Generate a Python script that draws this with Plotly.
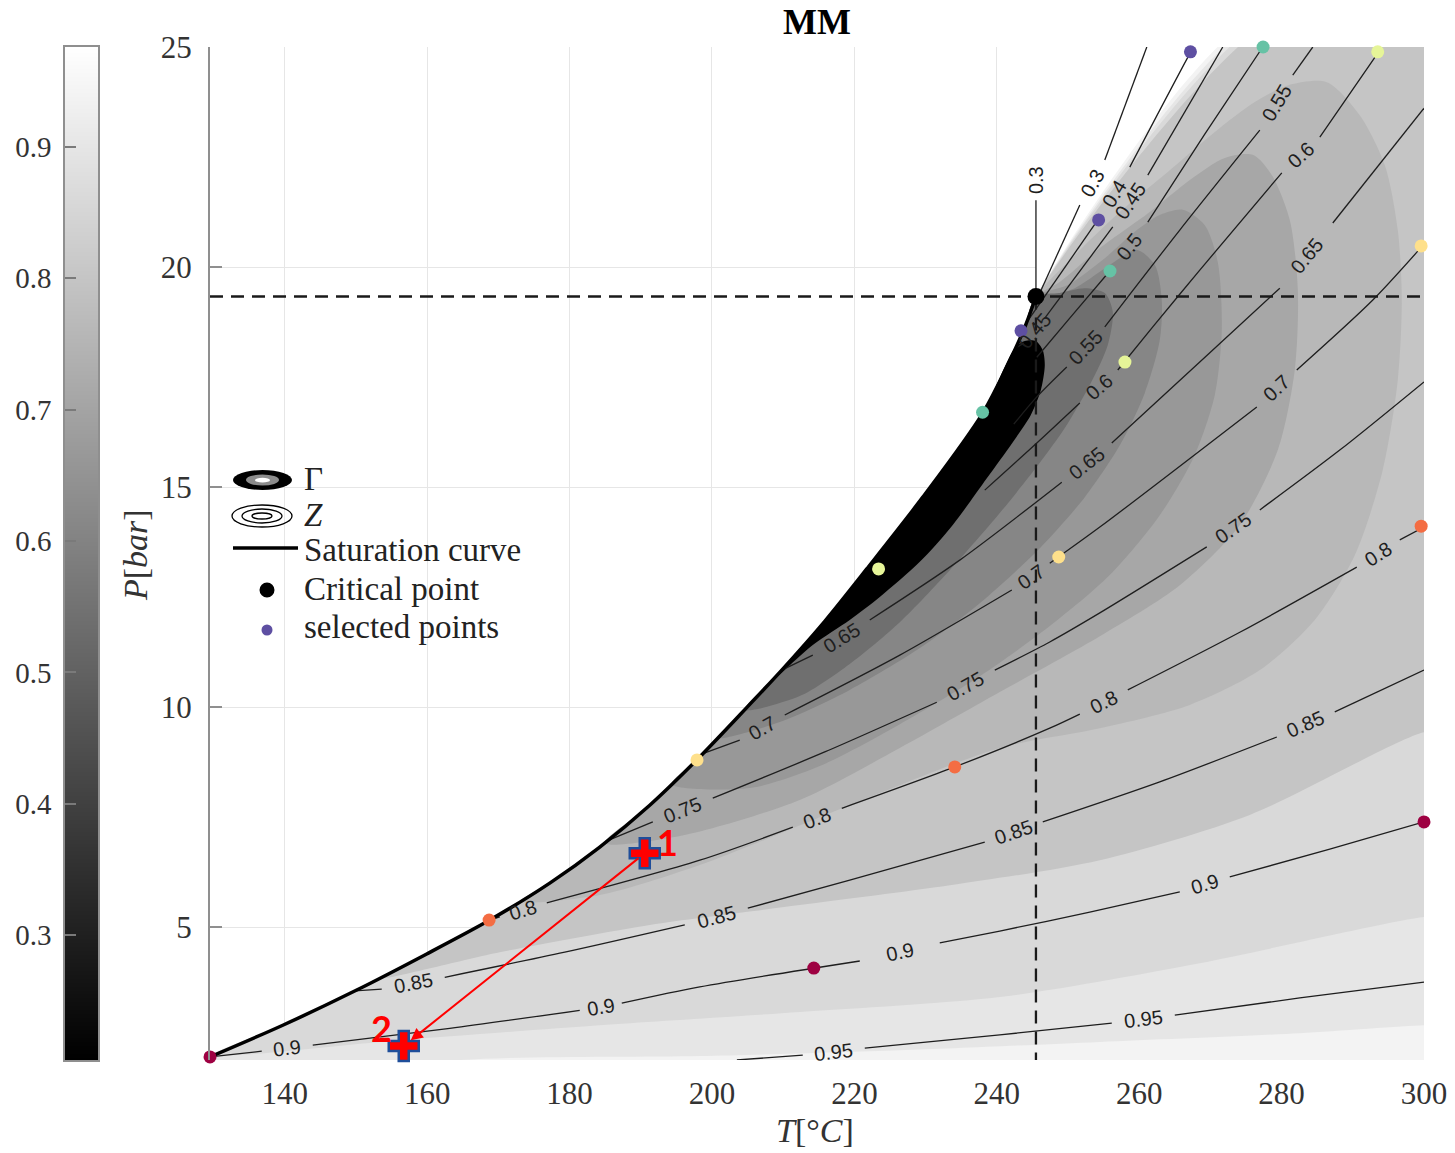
import math
import numpy as np
import plotly.graph_objects as go

# ---------------- axis ranges / ticks ----------------
T_MIN, T_MAX = 129.5, 300.0
P_MIN, P_MAX = 1.98, 25.0
T_TICKS = [140, 160, 180, 200, 220, 240, 260, 280, 300]
P_TICKS = [5, 10, 15, 20, 25]
CB_MIN, CB_MAX = 0.205, 0.976
CB_TICKS = [0.3, 0.4, 0.5, 0.6, 0.7, 0.8, 0.9]

# ---------------- critical point & saturation curve ----------------
crit_T, crit_P = 245.5, 19.33
sat_T = [129.5, 139.72, 150.11, 159.94, 168.79, 177.22, 184.24, 191.26, 197.87, 203.90,
         209.80, 215.84, 221.74, 229.61, 238.03, 243.65, 245.5]
sat_P = [2.05, 2.77, 3.57, 4.39, 5.16, 6.00, 6.82, 7.77, 8.80, 9.82,
         10.84, 11.95, 13.14, 14.77, 16.68, 18.52, 19.33]

# ---------------- Gamma bands (boundaries) ----------------
white_top_T = [273.1, 274.0, 274.8, 276.0]   # supercritical white edge at P=25
band_gamma = [0.94, 0.90, 0.86, 0.80, 0.76, 0.71, 0.665, 0.61, 0.54, 0.20]

gA_T = [164.72, 198.29, 226.38, 254.47, 282.56, 300.0]
gA_P = [1.98, 2.07, 2.20, 2.39, 2.59, 2.77]
gB_T = [130.17, 156.15, 184.24, 212.33, 240.42, 268.51, 300.0]
gB_P = [2.11, 2.43, 2.77, 3.07, 3.41, 4.18, 5.23]
gC_T = [153.34, 170.20, 191.26, 212.33, 233.40, 254.47, 275.53, 300.0]
gC_P = [3.84, 4.43, 5.05, 5.50, 5.95, 6.52, 7.55, 9.43]
g4_T = [173.01, 184.24, 198.29, 219.35, 240.42, 254.47, 267.11, 276.94, 284.66, 290.28,
        294.21, 296.32, 296.88, 296.32, 294.49, 290.98, 286.35, 281.15, 276.24, 270.62,
        264.30, 257.28, 250.96, 245.5]
g4_P = [5.58, 5.73, 6.41, 7.77, 9.07, 9.52, 10.05, 10.84, 11.98, 13.45,
        15.39, 17.43, 19.25, 20.84, 22.32, 23.45, 24.20, 24.14, 23.75, 23.07,
        22.20, 21.25, 20.27, 19.33]
g5_T = [184.94, 195.48, 212.33, 226.38, 240.42, 254.47, 265.70, 274.13, 279.47, 281.85,
        282.28, 281.15, 278.62, 275.96, 272.02, 267.11, 261.49, 254.47, 248.85, 245.5]
g5_P = [6.91, 7.07, 7.89, 9.07, 10.34, 11.61, 12.77, 14.14, 15.84, 17.66,
        19.48, 21.07, 22.09, 22.55, 22.48, 21.98, 21.25, 20.43, 19.66, 19.33]
g6_T = [194.35, 205.31, 215.14, 226.38, 237.61, 247.44, 255.87, 262.89, 267.81, 270.62,
        271.60, 271.04, 269.21, 266.12, 262.89, 259.38, 255.17, 249.97, 245.5]
g6_P = [8.25, 8.16, 8.66, 9.61, 10.70, 11.84, 13.0, 14.36, 15.73, 17.09,
        18.57, 20.11, 20.95, 21.30, 21.18, 20.80, 20.20, 19.59, 19.33]
g7_T = [200.81, 209.52, 219.35, 229.19, 237.61, 246.04, 252.36, 257.28, 260.79, 262.89,
        263.17, 262.19, 259.66, 257.28, 254.47, 250.96, 247.44, 245.5]
g7_P = [9.30, 9.66, 10.39, 11.34, 12.36, 13.61, 14.77, 15.95, 17.14, 18.34,
        19.25, 20.05, 20.39, 20.20, 19.89, 19.52, 19.36, 19.33]
g8_T = [204.61, 212.33, 219.35, 226.38, 233.40, 240.42, 246.04, 249.55, 253.06, 255.59,
        256.29, 255.17, 252.36, 248.85, 245.5]
g8_P = [9.94, 10.25, 10.98, 11.93, 13.11, 14.41, 15.55, 16.34, 17.32, 18.23,
        18.98, 19.41, 19.52, 19.41, 19.33]
g9_T = [207.42, 214.16, 219.35, 223.57, 229.19, 233.82, 238.60, 242.25, 244.78, 246.18,
        246.74, 246.46, 245.48, 243.93, 242.53]
g9_P = [10.43, 11.41, 11.98, 12.50, 13.30, 14.14, 15.20, 16.02, 16.64, 17.20,
        17.77, 18.11, 18.32, 18.32, 18.16]

# ---------------- Z contour lines (None = label gap) ----------------
z095_T = [203.5, 212.75, None, 221.46, 240.42, 256.15, None, 265.0, 282.56, 300.0]
z095_P = [1.98, 2.09, None, 2.25, 2.55, 2.82, None, 3.0, 3.39, 3.75]
z090_T = [129.5, 136.77, None, 143.93, 163.17, 181.43, None, 187.33, 198.29, 220.76, None,
          231.99, 240.42, 253.06, 265.70, None, 272.72, 286.77, 300.0]
z090_P = [2.05, 2.18, None, 2.32, 2.70, 3.11, None, 3.27, 3.64, 4.23, None,
          4.64, 4.91, 5.34, 5.80, None, 6.14, 6.77, 7.39]
z085_T = [149.83, 153.62, None, 162.47, 179.33, 196.18, None, 205.03, 219.35, 238.31, None,
          246.46, 262.89, 279.33, None, 287.47, 300.0]
z085_P = [3.55, 3.59, None, 3.86, 4.43, 5.05, None, 5.43, 6.07, 6.93, None,
          7.39, 8.30, 9.32, None, 9.89, 10.84]
z080_T = [168.79, 170.20, None, 176.80, 198.29, 211.35, None, 218.23, 234.10, 247.44, 251.66, None,
          258.40, 274.13, 290.56, None, 296.60, 300.0]
z080_P = [5.16, 5.23, None, 5.55, 6.52, 7.27, None, 7.70, 8.64, 9.52, 9.84, None,
          10.39, 11.70, 13.18, None, 13.80, 14.09]
z075_T = [185.08, 191.69, None, 200.11, 215.84, 231.57, None, 239.72, 247.44, 254.47, 269.49, None,
          276.94, 288.17, 300.0]
z075_P = [6.95, 7.39, None, 7.93, 8.98, 10.11, None, 10.84, 11.48, 12.14, 13.64, None,
          14.48, 15.84, 17.39]
z070_T = [198.71, 203.90, None, 210.22, 226.38, 242.11, None, 247.44, 254.47, 276.52, None,
          282.13, 292.81, 300.0]
z070_P = [8.94, 9.25, None, 9.82, 11.18, 12.66, None, 13.27, 14.09, 16.82, None,
          17.66, 19.25, 20.52]
z065_T = [209.80, 214.16, None, 222.16, 234.80, 249.13, None, 256.15, 269.92, 279.75, None,
          287.19, 300.0]
z065_P = [10.84, 11.18, None, 11.98, 13.34, 15.11, None, 16.0, 18.05, 19.52, None,
          21.0, 23.61]
z060_T = [238.31, 245.62, 251.66, None, 256.99, 261.91, 268.51, 280.03, None, 285.37, 293.51, 294.07]
z060_P = [14.93, 16.0, 16.91, None, 17.66, 18.64, 19.93, 22.14, None, 22.95, 24.86, 25.0]
z055_T = [242.39, 245.62, 249.83, None, 255.17, 265.70, 276.94, None, 281.57, 284.38]
z055_P = [16.43, 17.05, 17.73, None, 18.64, 20.84, 23.11, None, 24.36, 25.0]
z050_T = [245.62, 250.25, 255.87, None, 261.21, 269.21, 277.36]
z050_P = [17.95, 18.84, 19.91, None, 21.02, 23.02, 25.0]
z045_T = [242.67, 243.79, None, 246.74, 256.29, None, 261.21, 271.74]
z045_P = [18.16, 18.27, None, 18.84, 20.91, None, 22.09, 25.0]
z040_T = [243.37, 254.19, None, 258.68, 267.25, 267.67]
z040_P = [18.55, 21.07, None, 22.27, 24.89, 25.0]
z030_T = [246.04, 251.66, None, 255.17, 261.07]
z030_P = [19.41, 21.41, None, 22.43, 25.0]
z030v_T = [245.5, 245.5]
z030v_P = [19.33, 21.52]

# ---------------- selected points ----------------
sel_purple_T = [243.4, 254.3, 267.2];  sel_purple_P = [18.55, 21.07, 24.89]
sel_teal_T = [238.0, 255.9, 277.4];    sel_teal_P = [16.70, 19.91, 25.0]
sel_yg_T = [223.4, 258.0, 293.5];      sel_yg_P = [13.14, 17.84, 24.89]
sel_lo_T = [197.9, 248.7, 299.6];      sel_lo_P = [8.80, 13.41, 20.48]
sel_or_T = [168.7, 234.1, 299.6];      sel_or_P = [5.16, 8.64, 14.11]
sel_cr_T = [129.5, 214.3, 300.0];      sel_cr_P = [2.05, 4.07, 7.39]

# red annotation points
mark_T = [190.56, 156.71]
mark_P = [6.68, 2.30]
mark_labels = ["1", "2"]

# ---------------- page geometry ----------------
W, H = 1455, 1153
PLOT_L, PLOT_R, PLOT_T, PLOT_B = 210, 1424, 47, 1060
PAPER_W = PLOT_R
PLOT_H = PLOT_B - PLOT_T
PX_T = (PLOT_R - PLOT_L) / (T_MAX - T_MIN)
PX_P = PLOT_H / (P_MAX - P_MIN)
# corner points pushed slightly outside the axes so smoothed fills reach the frame
EXT_T = 0.02 * (T_MAX - T_MIN)
EXT_P = 0.03 * (P_MAX - P_MIN)
TX, PX_ = T_MAX + EXT_T, P_MAX + EXT_P
TN, PN = T_MIN - EXT_T, P_MIN - EXT_P


def pxx(x):
    return x / PAPER_W


def pxy(y):
    return (PLOT_B - y) / PLOT_H


def gray(g):
    v = int(round(255 * min(max((g - CB_MIN) / (CB_MAX - CB_MIN), 0.0), 1.0)))
    return f"rgb({v},{v},{v})"


def white_edge(wt):
    # extend the line crit -> (wt, P_MAX) slightly above the frame
    return crit_T + (wt - crit_T) * (PX_ - crit_P) / (P_MAX - crit_P)


def band_path(aT, aP, cT=(), cP=()):
    xs = list(aT) + list(cT)
    ys = list(aP) + list(cP)
    t_lo, t_hi = aT[0], xs[-1]
    for t, p in zip(sat_T[::-1], sat_P[::-1]):
        if t_lo < t < t_hi:
            xs.append(t)
            ys.append(p)
    xs.append(aT[0])
    ys.append(aP[0])
    return xs, ys


def angle(t1, p1, t2, p2):
    return -math.degrees(math.atan2((p2 - p1) * PX_P, (t2 - t1) * PX_T))


fig = go.Figure()


def add_poly(xs, ys, color, smooth=True):
    fig.add_trace(go.Scatter(x=xs, y=ys, mode="lines", fill="toself", fillcolor=color,
                             line=dict(width=0, color=color,
                                       shape="spline" if smooth else "linear", smoothing=0.8),
                             hoverinfo="skip", showlegend=False))


# supercritical white area
add_poly([crit_T, crit_T, TX, TX], [crit_P, PX_, PX_, crit_P], "white", smooth=False)
# band 0 (whole vapour region)
add_poly(sat_T + [white_edge(white_top_T[0]), TX, TX, TN],
         sat_P + [PX_, PX_, PN, PN], gray(band_gamma[0]))
# band 1
add_poly(sat_T + [white_edge(white_top_T[1]), TX] + [TX] + gA_T[::-1] + [TN],
         sat_P + [PX_, PX_] + [gA_P[-1]] + gA_P[::-1] + [PN], gray(band_gamma[1]))
# band 2, 3
for (aT, aP, wt, g) in [(gB_T, gB_P, white_top_T[2], band_gamma[2]),
                        (gC_T, gC_P, white_top_T[3], band_gamma[3])]:
    xs, ys = band_path(aT, aP, [TX, TX, white_edge(wt), crit_T], [aP[-1], PX_, PX_, crit_P])
    add_poly(xs, ys, gray(g))
# inner bands
for (aT, aP, g) in [(g4_T, g4_P, band_gamma[4]), (g5_T, g5_P, band_gamma[5]),
                    (g6_T, g6_P, band_gamma[6]), (g7_T, g7_P, band_gamma[7]),
                    (g8_T, g8_P, band_gamma[8]), (g9_T, g9_P, band_gamma[9])]:
    xs, ys = band_path(aT, aP)
    add_poly(xs, ys, gray(g))

# ---------------- Z contour lines + labels ----------------
contours = [("0.95", z095_T, z095_P), ("0.9", z090_T, z090_P), ("0.85", z085_T, z085_P),
            ("0.8", z080_T, z080_P), ("0.75", z075_T, z075_P), ("0.7", z070_T, z070_P),
            ("0.65", z065_T, z065_P), ("0.6", z060_T, z060_P), ("0.55", z055_T, z055_P),
            ("0.5", z050_T, z050_P), ("0.45", z045_T, z045_P), ("0.4", z040_T, z040_P),
            ("0.3", z030_T, z030_P), ("0.3", z030v_T, z030v_P)]
annotations = []
LABEL_FONT = dict(family="Liberation Sans, Arial, sans-serif", size=20, color="#1e1e1e")
for text, T, P in contours:
    fig.add_trace(go.Scatter(x=T, y=P, mode="lines",
                             line=dict(color="#1e1e1e", width=1.3, shape="spline", smoothing=0.8),
                             connectgaps=False, hoverinfo="skip", showlegend=False))
    for i, t in enumerate(T):
        if t is None:
            t1, p1, t2, p2 = T[i - 1], P[i - 1], T[i + 1], P[i + 1]
            annotations.append(dict(x=(t1 + t2) / 2, y=(p1 + p2) / 2, xref="x", yref="y",
                                    text=text, showarrow=False, textangle=angle(t1, p1, t2, p2),
                                    font=LABEL_FONT))
# trailing label of vertical 0.3 line
t1, p1, t2, p2 = z030v_T[-2], z030v_P[-2], z030v_T[-1], z030v_P[-1]
d = math.hypot((t2 - t1) * PX_T, (p2 - p1) * PX_P)
off = 20
annotations.append(dict(x=t2 + (t2 - t1) * PX_T / d * off / PX_T,
                        y=p2 + (p2 - p1) * PX_P / d * off / PX_P,
                        xref="x", yref="y", text="0.3", showarrow=False,
                        textangle=angle(t1, p1, t2, p2), font=LABEL_FONT))

# saturation curve
fig.add_trace(go.Scatter(x=sat_T, y=sat_P, mode="lines",
                         line=dict(color="black", width=3.5, shape="spline", smoothing=0.8),
                         hoverinfo="skip", showlegend=False))
# dashed critical lines
fig.add_trace(go.Scatter(x=[T_MIN, T_MAX], y=[crit_P, crit_P], mode="lines",
                         line=dict(color="#1a1a1a", width=2.3, dash="13px,8px"),
                         hoverinfo="skip", showlegend=False))
fig.add_trace(go.Scatter(x=[crit_T, crit_T], y=[crit_P, P_MIN], mode="lines",
                         line=dict(color="#1a1a1a", width=2.3, dash="13px,8px"),
                         hoverinfo="skip", showlegend=False))

# selected points
for (T, P, c) in [(sel_cr_T, sel_cr_P, "#9e0142"), (sel_or_T, sel_or_P, "#f46d43"),
                  (sel_lo_T, sel_lo_P, "#fee08b"), (sel_yg_T, sel_yg_P, "#e6f598"),
                  (sel_teal_T, sel_teal_P, "#66c2a5"), (sel_purple_T, sel_purple_P, "#5e4fa2")]:
    fig.add_trace(go.Scatter(x=T, y=P, mode="markers", marker=dict(size=13, color=c),
                             cliponaxis=False, hoverinfo="skip", showlegend=False))
# critical point
fig.add_trace(go.Scatter(x=[crit_T], y=[crit_P], mode="markers",
                         marker=dict(size=17, color="black"), cliponaxis=False,
                         hoverinfo="skip", showlegend=False))

# red arrow between the two marked states
annotations.append(dict(x=mark_T[1], y=mark_P[1], ax=mark_T[0], ay=mark_P[0],
                        xref="x", yref="y", axref="x", ayref="y", text="",
                        showarrow=True, arrowhead=2, arrowsize=1.2, arrowwidth=2,
                        arrowcolor="red", standoff=9, startstandoff=6))
fig.add_trace(go.Scatter(x=mark_T, y=mark_P, mode="markers",
                         marker=dict(symbol="cross", size=25, color="red",
                                     line=dict(color="#1f4e9a", width=2.5)),
                         cliponaxis=False, hoverinfo="skip", showlegend=False))
for t, p, lab, dx, dy in [(mark_T[0], mark_P[0], mark_labels[0], 23, 11),
                          (mark_T[1], mark_P[1], mark_labels[1], -22, 18)]:
    annotations.append(dict(x=t, y=p, xref="x", yref="y", text=f"<b>{lab}</b>", showarrow=False,
                            xshift=dx, yshift=dy,
                            font=dict(family="Lato, Liberation Sans, sans-serif", size=36, color="red")))

# ---------------- colour bar (gradient in its own axes) ----------------
cb_y = np.linspace(CB_MIN, CB_MAX, 256)
fig.add_trace(go.Heatmap(x=[0], y=cb_y, z=[[v] for v in cb_y],
                         colorscale=[[0, "black"], [1, "white"]], zmin=CB_MIN, zmax=CB_MAX,
                         showscale=False, xaxis="x2", yaxis="y2", hoverinfo="skip"))

# ---------------- titles ----------------
SERIF = "Liberation Serif, Times New Roman, serif"
annotations.append(dict(x=pxx(817), y=pxy(22), xref="paper", yref="paper", text="<b>MM</b>",
                        xanchor="center", yanchor="middle",
                        showarrow=False, font=dict(family=SERIF, size=36, color="black")))
annotations.append(dict(x=pxx(815), y=pxy(1130), xref="paper", yref="paper",
                        text="<i>T</i>[°<i>C</i>]", showarrow=False,
                        xanchor="center", yanchor="middle",
                        font=dict(family=SERIF, size=34, color="#333")))
annotations.append(dict(x=pxx(135), y=pxy(555), xref="paper", yref="paper",
                        text="<i>P</i>[<i>bar</i>]", showarrow=False, textangle=-90,
                        xanchor="center", yanchor="middle",
                        font=dict(family=SERIF, size=34, color="#333")))

# ---------------- custom legend ----------------
shapes = []


def ell(x0, x1, y0, y1, **kw):
    shapes.append(dict(type="circle", xref="paper", yref="paper",
                       x0=pxx(x0), x1=pxx(x1), y0=pxy(y1), y1=pxy(y0), **kw))


ell(233, 292, 470, 490, fillcolor="black", line=dict(width=0))
ell(246, 279, 474.5, 485.5, fillcolor="#8c8c8c", line=dict(width=0))
ell(255, 270, 477.8, 482.5, fillcolor="white", line=dict(width=0))
for (a, b, c, e) in [(232, 292, 505, 527), (242, 282, 509, 523), (252, 272, 513, 519)]:
    ell(a, b, c, e, line=dict(color="black", width=1.3), fillcolor="rgba(0,0,0,0)")
shapes.append(dict(type="line", xref="paper", yref="paper", x0=pxx(233), x1=pxx(298),
                   y0=pxy(548), y1=pxy(548), line=dict(color="black", width=3.5)))
ell(259.5, 274.5, 582.5, 597.5, fillcolor="black", line=dict(width=0))
ell(261.5, 272.5, 624.5, 635.5, fillcolor="#5e4fa2", line=dict(width=0))

LEG_FONT = dict(family=SERIF, size=33, color="#222")
for txt, yc in [("Γ", 479), ("<i>Z</i>", 515), ("Saturation curve", 550),
                ("Critical point", 589), ("selected points", 627)]:
    annotations.append(dict(x=pxx(302), y=pxy(yc), xref="paper", yref="paper", text=txt,
                            xanchor="left", yanchor="middle", showarrow=False, font=LEG_FONT))

TICK_FONT = dict(family=SERIF, size=31, color="#333")
fig.update_layout(
    width=W, height=H, autosize=False,
    margin=dict(l=0, r=W - PLOT_R, t=PLOT_T, b=H - PLOT_B, pad=0),
    plot_bgcolor="white", paper_bgcolor="white", showlegend=False,
    xaxis=dict(domain=[PLOT_L / PAPER_W, 1.0], range=[T_MIN, T_MAX], tickvals=T_TICKS,
               showgrid=True, gridcolor="#e6e6e6", gridwidth=1, zeroline=False, showline=False,
               ticks="", tickfont=TICK_FONT, ticklabelstandoff=12),
    yaxis=dict(domain=[0, 1], range=[P_MIN, P_MAX], tickvals=P_TICKS,
               showgrid=True, gridcolor="#e6e6e6", gridwidth=1, zeroline=False,
               showline=True, linecolor="#8f8f8f", linewidth=2,
               ticks="inside", ticklen=12, tickcolor="#8f8f8f", tickwidth=1.5,
               tickfont=TICK_FONT, ticklabelstandoff=10),
    xaxis2=dict(domain=[65 / PAPER_W, 98 / PAPER_W], anchor="y2", range=[-0.5, 0.5],
                showticklabels=False, ticks="", showgrid=False, zeroline=False,
                showline=True, mirror=True, linecolor="#8f8f8f", linewidth=1.5),
    yaxis2=dict(domain=[0, 1], anchor="x2", range=[CB_MIN, CB_MAX], tickvals=CB_TICKS,
                side="left", ticks="inside", ticklen=11, tickcolor="#7a7a7a", tickwidth=1.5,
                showgrid=False, zeroline=False, showline=True, mirror=True,
                linecolor="#8f8f8f", linewidth=1.5,
                tickfont=dict(family=SERIF, size=29, color="#333"), ticklabelstandoff=6),
    annotations=annotations,
    shapes=shapes,
)

fig.write_html("out.html")
